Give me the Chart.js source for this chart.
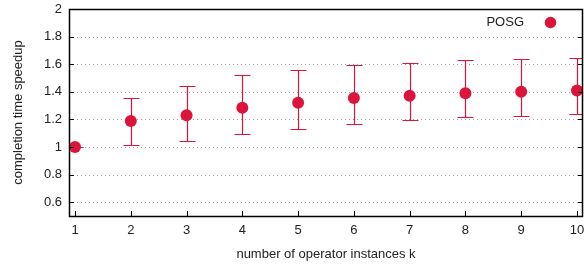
<!DOCTYPE html>
<html>
<head>
<meta charset="utf-8">
<script src="https://cdn.jsdelivr.net/npm/chart.js@4/dist/chart.umd.min.js"></script>
<style>
html,body{margin:0;padding:0;background:#fff;}
#wrap{width:584px;height:265px;position:relative;}
</style>
</head>
<body>
<div id="wrap"><canvas id="c" width="584" height="265"></canvas></div>
<script>
const categories = [1, 2, 3, 4, 5, 6, 7, 8, 9, 10];
const speedup = [1.0, 1.188, 1.23, 1.285, 1.32, 1.355, 1.372, 1.389, 1.40, 1.41];
const errLow = [1.0, 1.017, 1.04, 1.092, 1.13, 1.17, 1.193, 1.215, 1.225, 1.237];
const errHigh = [1.0, 1.355, 1.44, 1.52, 1.556, 1.594, 1.61, 1.63, 1.64, 1.647];
const yTicks = [0.6, 0.8, 1.0, 1.2, 1.4, 1.6, 1.8, 2.0];
const seriesName = 'POSG';
const xTitle = 'number of operator instances k';
const yTitle = 'completion time speedup';

const RED = '#dc143c';
const FONT = '"Liberation Sans", Arial, sans-serif';

const framePlugin = {
  id: 'frame',
  beforeDatasetsDraw(chart) {
    const ctx = chart.ctx, a = chart.chartArea;
    const xs = chart.scales.x, ys = chart.scales.y;
    ctx.save();
    ctx.strokeStyle = '#a0a0a0';
    ctx.lineWidth = 1;
    ctx.setLineDash([1, 3]);
    yTicks.forEach(v => {
      const y = Math.round(ys.getPixelForValue(v)) + 0.5;
      ctx.beginPath(); ctx.moveTo(a.left, y); ctx.lineTo(a.right, y); ctx.stroke();
    });
    ctx.setLineDash([]);
    ctx.beginPath();
    ctx.rect(a.left, a.top, a.right - a.left, a.bottom - a.top);
    ctx.clip();
    ctx.strokeStyle = RED;
    ctx.lineWidth = 1.2;
    categories.forEach((k, i) => {
      const x = Math.round(xs.getPixelForValue(k)) + 0.5;
      const yl = Math.round(ys.getPixelForValue(errLow[i])) + 0.5;
      const yh = Math.round(ys.getPixelForValue(errHigh[i])) + 0.5;
      ctx.beginPath();
      ctx.moveTo(x, yl); ctx.lineTo(x, yh);
      ctx.moveTo(x - 8, yl); ctx.lineTo(x + 8, yl);
      ctx.moveTo(x - 8, yh); ctx.lineTo(x + 8, yh);
      ctx.stroke();
    });
    ctx.restore();
  },
  afterDatasetsDraw(chart) {
    const ctx = chart.ctx, a = chart.chartArea;
    const xs = chart.scales.x, ys = chart.scales.y;
    ctx.save();
    ctx.strokeStyle = '#000';
    ctx.lineWidth = 1;
    ctx.beginPath();
    yTicks.forEach(v => {
      const y = Math.round(ys.getPixelForValue(v)) + 0.5;
      ctx.moveTo(a.left, y); ctx.lineTo(a.left + 5, y);
      ctx.moveTo(a.right, y); ctx.lineTo(a.right - 5, y);
    });
    categories.forEach(k => {
      const x = Math.round(xs.getPixelForValue(k)) + 0.5;
      ctx.moveTo(x, a.bottom); ctx.lineTo(x, a.bottom - 5);
    });
    ctx.stroke();
    ctx.lineWidth = 1.5;
    ctx.strokeRect(Math.round(a.left) + 0.5, Math.round(a.top) + 0.5,
                   Math.round(a.right - a.left) - 1, Math.round(a.bottom - a.top));
    ctx.fillStyle = '#222';
    ctx.font = '13px ' + FONT;
    ctx.textAlign = 'right';
    ctx.textBaseline = 'middle';
    ctx.fillText(seriesName, 524, 22);
    ctx.fillStyle = RED;
    ctx.beginPath(); ctx.arc(550.5, 22.5, 5.8, 0, Math.PI * 2); ctx.fill();
    ctx.fillStyle = '#222';
    ctx.font = '13px ' + FONT;
    ctx.textAlign = 'center';
    ctx.fillText(xTitle, 326, 254);
    ctx.translate(18.5, 112.5);
    ctx.rotate(-Math.PI / 2);
    ctx.fillText(yTitle, 0, 0);
    ctx.restore();
  }
};

new Chart(document.getElementById('c'), {
  type: 'scatter',
  data: {
    datasets: [{
      label: seriesName,
      data: categories.map((k, i) => ({ x: k, y: speedup[i] })),
      backgroundColor: RED,
      borderColor: RED,
      pointRadius: 6,
      pointHoverRadius: 6,
      borderWidth: 0
    }]
  },
  options: {
    responsive: false,
    animation: false,
    devicePixelRatio: 1,
    layout: { autoPadding: false, padding: { top: 9, right: 1, left: 0, bottom: 0 } },
    plugins: { legend: { display: false }, tooltip: { enabled: false } },
    scales: {
      x: {
        type: 'linear',
        min: 0.892,
        max: 10.108,
        afterBuildTicks: s => { s.ticks = categories.map(v => ({ value: v })); },
        afterFit: s => { s.height = 49; s.paddingLeft = 0; s.paddingRight = 0; },
        grid: { display: false, drawTicks: false },
        border: { display: false },
        ticks: { color: '#222', font: { size: 13, family: FONT }, padding: 7, maxRotation: 0, autoSkip: false }
      },
      y: {
        min: 0.5,
        max: 2.0,
        afterBuildTicks: s => { s.ticks = yTicks.map(v => ({ value: v })); },
        afterFit: s => { s.width = 69; s.paddingTop = 0; s.paddingBottom = 0; },
        grid: { display: false, drawTicks: false },
        border: { display: false },
        ticks: { color: '#222', font: { size: 13, family: FONT }, padding: 7,
                 callback: v => String(Math.round(v * 10) / 10) }
      }
    }
  },
  plugins: [framePlugin]
});
</script>
</body>
</html>
